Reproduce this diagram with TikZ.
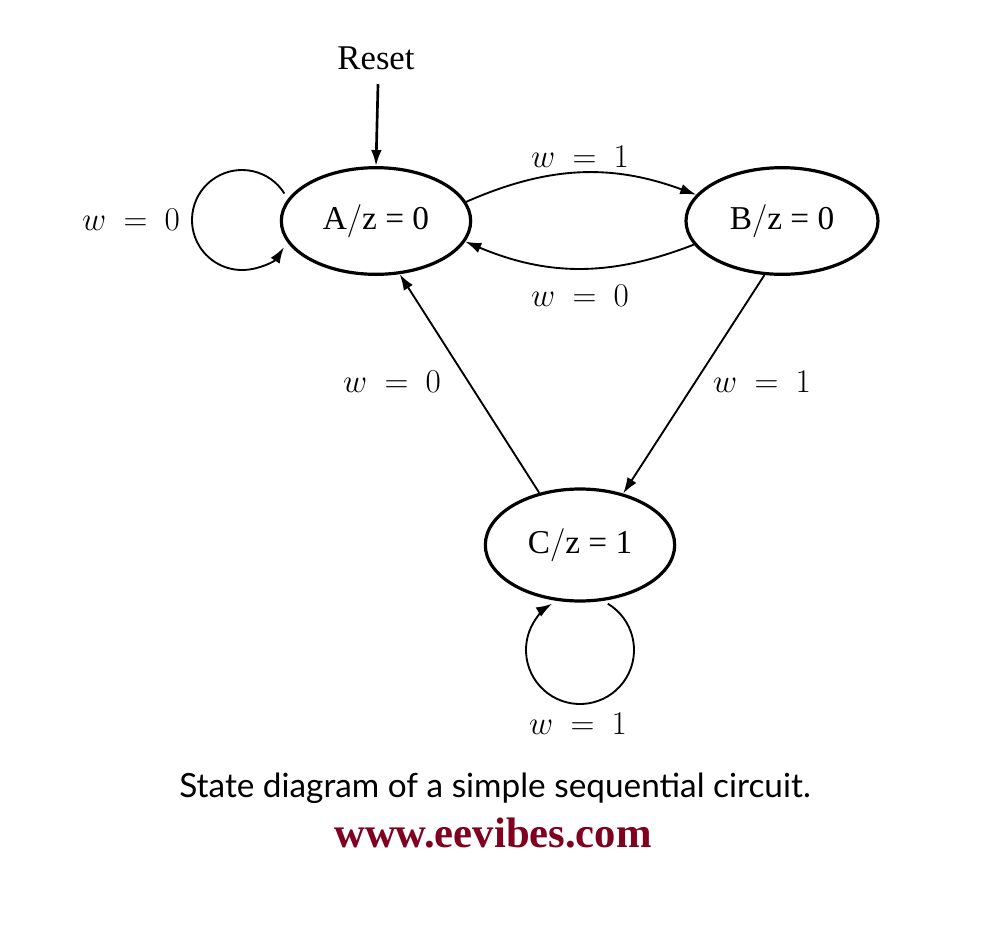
\documentclass[tikz,border=0pt]{standalone}
\usepackage{fontspec}
\setmainfont{Liberation Serif}
\newfontfamily\capfont{Lato}
\usetikzlibrary{shapes.geometric,arrows.meta}
\definecolor{webred}{RGB}{128,0,32}
\begin{document}
\begin{tikzpicture}[x=0.75pt,y=-0.75pt,
  st/.style={ellipse,draw,line width=2.4pt,minimum width=142pt,minimum height=80pt,inner sep=0pt,font=\fontsize{25}{30}\selectfont},
  tr/.style={line width=1.4pt,-{Latex[length=12pt,width=8pt]}},
  lb/.style={font=\fontsize{24}{28}\selectfont}]
\useasboundingbox (0,0) rectangle (983,925);
\node[st] (A) at (376,221) {A$/$z = 0};
\node[st,minimum width=144pt] (B) at (782,221) {B$/$z = 0};
\node[st,minimum height=84pt] (C) at (580,545) {C$/$z = 1};
\node[font=\fontsize{26}{30}\selectfont] (reset) at (376,58) {Reset};
\draw[line width=2pt,-{Latex[length=12pt,width=8pt]}] (reset.south) ++(2,10) coordinate (r0) -- (A.north);
\draw[tr] (A.12) to[bend left=22] (B.163);
\draw[tr] (B.195) to[bend left=22] (A.-13);
\draw[tr] (B.-108) -- (C.50);
\draw[tr] (C.128) -- (A.-66);
\coordinate (la) at (242,220);
\draw[tr] (la) ++(-32:50) arc[start angle=-32,end angle=-327,radius=50];
\coordinate (lc) at (580,650);
\draw[tr] (lc) ++(-59:54) arc[start angle=-59,end angle=239,radius=54];
\node[lb] (l1) at (580,157) {$w\ =\ 1$};
\node[lb] (l2) at (580,296) {$w\ =\ 0$};
\node[lb] (l3) at (131,220) {$w\ =\ 0$};
\node[lb] (l4) at (392,382) {$w\ =\ 0$};
\node[lb] (l5) at (762,382) {$w\ =\ 1$};
\node[lb] (l6) at (578,724) {$w\ =\ 1$};
\node[font=\capfont\fontsize{25}{30}\selectfont] (cap) at (495,788) {State diagram of a simple sequential circuit.};
\node[font=\bfseries\fontsize{32}{36}\selectfont,text=webred] (web) at (493,833) {www.eevibes.com};
\end{tikzpicture}
\end{document}
